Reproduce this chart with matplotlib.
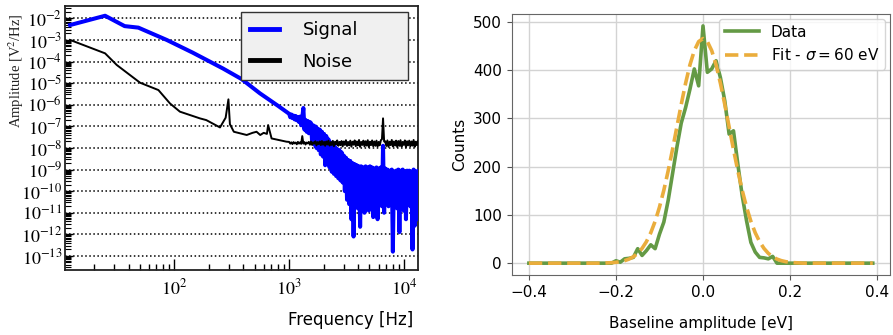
import matplotlib
matplotlib.use("Agg")
import matplotlib.pyplot as plt
import numpy as np
from matplotlib.ticker import LogLocator, FuncFormatter, NullFormatter, MultipleLocator

plt.rcParams['mathtext.fontset'] = 'stix'

# ---- left panel: power spectra (exponents, log10 of V^2/Hz) ----
sig_f_low = [12.4, 25, 37, 48.7, 86, 145, 265, 385, 556, 800]
sig_e_low = [-2.31, -1.88, -2.36, -2.43, -3.0, -3.59, -4.32, -4.81, -5.47, -6.05]

noise_f_low = [12.4, 25, 31.6, 47, 50.4, 72.8, 91.8, 112, 167, 190, 250, 280, 296,
               305, 330, 427, 480, 520, 560, 600, 640, 656, 703, 948]
noise_e_low = [-3.0, -3.62, -4.16, -4.86, -4.98, -5.32, -5.94, -6.32, -6.63, -6.71,
               -7.05, -6.6, -5.75, -6.9, -7.25, -7.40, -7.3, -7.25, -7.4, -7.3,
               -7.35, -6.94, -7.56, -7.71]

# high frequency part, 1 kHz .. 13.5 kHz, 120 samples
sig_e_high = [
    -6.42, -6.58, -6.45, -6.62, -6.50, -6.68, -6.52, -6.72, -6.58, -6.80,
    -6.55, -6.95, -6.60, -6.15, -7.15, -6.70, -7.25, -6.75, -7.32, -6.80,
    -6.85, -7.70, -6.95, -7.85, -7.00, -8.00, -7.10, -8.10, -7.15, -8.30,
    -7.25, -8.40, -7.35, -8.80, -7.45, -8.60, -7.60, -8.90, -7.75, -9.10,
    -7.85, -9.20, -7.95, -9.30, -8.05, -9.40, -8.10, -9.50, -8.20, -9.60,
    -8.35, -10.00, -8.45, -10.40, -8.55, -10.60, -8.60, -11.30, -8.70, -12.10,
    -8.75, -10.60, -8.80, -10.80, -8.85, -11.65, -8.85, -10.50, -8.90, -11.00,
    -8.85, -10.60, -8.90, -10.90, -8.85, -10.40, -8.90, -11.20, -8.95, -10.60,
    -8.90, -11.30, -8.95, -10.50, -8.90, -10.70, -7.90, -11.00, -8.95, -10.60,
    -9.00, -10.70, -9.05, -10.60, -9.00, -12.80, -9.10, -10.50, -9.05, -10.80,
    -9.00, -11.90, -9.05, -10.60, -9.00, -10.90, -9.10, -11.30, -9.05, -10.50,
    -9.05, -10.70, -9.10, -12.70, -9.00, -11.60, -9.10, -10.60, -9.05, -11.30,
]
noise_e_high = [
    -7.72, -7.80, -7.74, -7.82, -7.73, -7.79, -7.75, -7.83, -7.72, -7.80,
    -7.74, -7.81, -7.45, -7.80, -7.73, -7.84, -7.75, -7.79, -7.72, -7.85,
    -7.70, -7.86, -7.74, -7.80, -7.69, -7.88, -7.73, -7.82, -7.70, -7.87,
    -7.68, -7.85, -7.72, -7.90, -7.70, -7.84, -7.66, -7.89, -7.73, -7.86,
    -7.67, -7.92, -7.71, -7.84, -7.65, -7.90, -7.72, -7.87, -7.68, -7.93,
    -7.70, -7.86, -7.64, -7.91, -7.72, -7.88, -7.66, -7.94, -7.71, -7.85,
    -7.65, -7.92, -7.70, -7.88, -7.63, -7.95, -7.72, -7.86, -7.66, -7.93,
    -7.69, -7.89, -7.64, -7.96, -7.71, -7.87, -7.65, -7.92, -7.70, -7.90,
    -7.66, -7.94, -7.72, -7.88, -7.64, -7.60, -6.63, -7.70, -7.69, -7.91,
    -7.65, -7.95, -7.71, -7.87, -7.63, -7.93, -7.70, -7.89, -7.66, -7.96,
    -7.68, -7.90, -7.64, -7.94, -7.72, -7.86, -7.65, -7.97, -7.69, -7.88,
    -7.66, -7.93, -7.70, -7.89, -7.63, -7.95, -7.71, -7.87, -7.67, -7.92,
]
f_high = np.geomspace(1000, 13500, len(sig_e_high))

# ---- right panel: baseline histogram ----
base_x = np.round(np.arange(-0.40, 0.395, 0.01), 2)
counts = [0] * 20 + [5, 2, 9, 10, 12, 30, 16, 26, 38, 30, 60, 85, 130, 185, 240,
                     290, 322, 360, 402, 367, 491, 395, 402, 419, 384, 336, 267,
                     274, 205, 140, 88, 43, 23, 12, 11, 9, 14, 0] + [0] * 22
fit_vals = [0] * 18 + [0.6, 1.0, 1.8, 3.1, 5.2, 8.4, 13.3, 20.4, 30.6, 44.5, 62.9,
                       86.6, 116.0, 151.0, 191.2, 235.4, 282.0, 328.6, 372.3, 410.4,
                       439.9, 458.6, 465.0, 458.6, 439.9, 410.4, 372.3, 328.6, 282.0,
                       235.4, 191.2, 151.0, 116.0, 86.6, 62.9, 44.5, 30.6, 20.4, 13.3,
                       8.4, 5.2, 3.1, 1.8, 1.0, 0.6] + [0] * 17

fig = plt.figure(figsize=(8.93, 3.35), dpi=100)

# left
ax1 = fig.add_axes([0.0728, 0.194, 0.395, 0.788])
sig_f = np.concatenate([sig_f_low, f_high])
sig_y = 10.0 ** np.concatenate([sig_e_low, sig_e_high])
noi_f = np.concatenate([noise_f_low, f_high])
noi_y = 10.0 ** np.concatenate([noise_e_low, noise_e_high])
ax1.plot(sig_f, sig_y, color='#0000ff', lw=2.9, label='Signal', zorder=3)
ax1.plot(noi_f, noi_y, color='black', lw=1.4, label='Noise', zorder=4)
ax1.set_xscale('log')
ax1.set_yscale('log')
ax1.set_xlim(11.2, 13150)
ax1.set_ylim(10 ** -13.65, 10 ** -1.43)

ax1.yaxis.set_major_locator(LogLocator(base=10, numticks=100))
ax1.yaxis.set_minor_locator(LogLocator(base=10, subs=np.arange(2, 10), numticks=200))
ax1.yaxis.set_minor_formatter(NullFormatter())
ax1.xaxis.set_minor_locator(LogLocator(base=10, subs=np.arange(2, 10), numticks=100))
ax1.xaxis.set_minor_formatter(NullFormatter())
expfmt = FuncFormatter(lambda v, p: r'$10^{%d}$' % round(np.log10(v)))
ax1.yaxis.set_major_formatter(expfmt)
ax1.xaxis.set_major_formatter(expfmt)
ax1.tick_params(which='both', direction='in', top=False, right=False, labelsize=13)
ax1.tick_params(axis='x', which='major', length=8, width=1, pad=6)
ax1.tick_params(axis='x', which='minor', length=4, width=1)
ax1.tick_params(axis='y', which='major', length=6, width=1, pad=2)
ax1.tick_params(axis='y', which='minor', length=4, width=0.8)
ax1.grid(axis='y', which='major', ls=':', color='black', lw=1.1)
for s in ax1.spines.values():
    s.set_linewidth(1.3)
    s.set_color('#222222')

leg1 = ax1.legend(loc='upper left', bbox_to_anchor=(0.499, 0.712, 0.473, 0.265),
                  mode='expand', borderaxespad=0, fancybox=False, framealpha=1,
                  facecolor='#f0f0f0', edgecolor='#333333', fontsize=13,
                  handlelength=1.6, handletextpad=1.3, labelspacing=0.75,
                  borderpad=0.5)
leg1.get_frame().set_linewidth(1.0)
for line in leg1.get_lines():
    line.set_linewidth(3.5)

fig.text(0.463, 0.045, 'Frequency [Hz]', ha='right', va='center', fontsize=12)
fig.text(0.018, 1 - 71 / 335, r'Amplitude [V$^2$/Hz]', rotation=90, ha='center',
         va='center', fontsize=10.5, family='Liberation Serif', color='#222222')

# right
ax2 = fig.add_axes([0.573, 0.179, 0.4236, 0.779])
ax2.plot(base_x, counts, color='#649a45', lw=2.6, label='Data')
ax2.plot(base_x, fit_vals, color='#eaad3c', lw=2.6, ls='--', label=r'Fit - $\sigma = 60$ eV')
ax2.set_xticks([-0.4, -0.2, 0.0, 0.2, 0.4])
ax2.yaxis.set_major_locator(MultipleLocator(100))
ax2.grid(True, color='#d3d3d3', lw=1)
ax2.set_axisbelow(True)
ax2.tick_params(labelsize=11, color='#555555')
for s in ax2.spines.values():
    s.set_color('#666666')
ax2.set_xlabel('Baseline amplitude [eV]', fontsize=11, labelpad=12)
ax2.set_ylabel('Counts', fontsize=11)
leg2 = ax2.legend(loc='upper right', fontsize=11, handlelength=2.2,
                  borderaxespad=0.3)
leg2.get_texts()[1].set_math_fontfamily('dejavusans')

fig.savefig('out.png', dpi=100)
